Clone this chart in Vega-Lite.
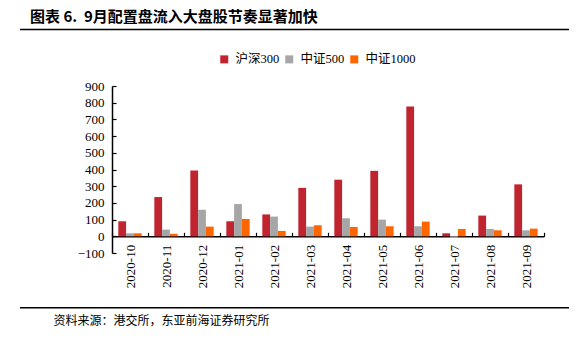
{
  "$schema": "https://vega.github.io/schema/vega-lite/v6.json",
  "autosize": {"type": "none"},
  "width": 432,
  "height": 167,
  "padding": {"left": 112, "top": 86, "right": 35, "bottom": 86},
  "background": "white",
  "title": {
    "text": "图表 6.\u00a0\u00a09月配置盘流入大盘股节奏显著加快",
    "anchor": "start",
    "frame": "group",
    "dx": -82,
    "offset": 4,
    "font": "Noto Sans CJK SC",
    "fontSize": 15,
    "fontWeight": "bold",
    "color": "#000000"
  },
  "config": {
    "view": {"stroke": null},
    "axis": {"labelFont": "Liberation Serif", "labelFontSize": 13, "labelColor": "#000000", "domainColor": "#000000", "tickColor": "#000000", "grid": false, "labelOverlap": false},
    "axisY": {"tickCount": 10, "domainWidth": 1.5, "tickSize": -4, "tickWidth": 1.2, "labelPadding": 12, "labelOverlap": false}
  },
  "layer": [
    {
      "data": {
        "values": [
          {"month": "2020-10", "series": "沪深300", "value": 90},
          {"month": "2020-10", "series": "中证500", "value": 18},
          {"month": "2020-10", "series": "中证1000", "value": 18},
          {"month": "2020-11", "series": "沪深300", "value": 235},
          {"month": "2020-11", "series": "中证500", "value": 40},
          {"month": "2020-11", "series": "中证1000", "value": 15},
          {"month": "2020-12", "series": "沪深300", "value": 394},
          {"month": "2020-12", "series": "中证500", "value": 159},
          {"month": "2020-12", "series": "中证1000", "value": 58},
          {"month": "2021-01", "series": "沪深300", "value": 90},
          {"month": "2021-01", "series": "中证500", "value": 193},
          {"month": "2021-01", "series": "中证1000", "value": 104},
          {"month": "2021-02", "series": "沪深300", "value": 131},
          {"month": "2021-02", "series": "中证500", "value": 118},
          {"month": "2021-02", "series": "中证1000", "value": 32},
          {"month": "2021-03", "series": "沪深300", "value": 290},
          {"month": "2021-03", "series": "中证500", "value": 58},
          {"month": "2021-03", "series": "中证1000", "value": 66},
          {"month": "2021-04", "series": "沪深300", "value": 339},
          {"month": "2021-04", "series": "中证500", "value": 108},
          {"month": "2021-04", "series": "中证1000", "value": 56},
          {"month": "2021-05", "series": "沪深300", "value": 392},
          {"month": "2021-05", "series": "中证500", "value": 100},
          {"month": "2021-05", "series": "中证1000", "value": 60},
          {"month": "2021-06", "series": "沪深300", "value": 777},
          {"month": "2021-06", "series": "中证500", "value": 60},
          {"month": "2021-06", "series": "中证1000", "value": 88},
          {"month": "2021-07", "series": "沪深300", "value": 18},
          {"month": "2021-07", "series": "中证500", "value": -10},
          {"month": "2021-07", "series": "中证1000", "value": 44},
          {"month": "2021-08", "series": "沪深300", "value": 124},
          {"month": "2021-08", "series": "中证500", "value": 44},
          {"month": "2021-08", "series": "中证1000", "value": 36},
          {"month": "2021-09", "series": "沪深300", "value": 311},
          {"month": "2021-09", "series": "中证500", "value": 36},
          {"month": "2021-09", "series": "中证1000", "value": 46}
        ]
      },
      "mark": {"type": "bar"},
      "encoding": {
        "x": {
          "field": "month",
          "type": "nominal",
          "scale": {"paddingInner": 0, "paddingOuter": 0},
          "axis": {
            "title": "资料来源：港交所，东亚前海证券研究所",
            "titleFont": "Noto Sans CJK SC",
            "titleFontSize": 12,
            "titleFontWeight": "normal",
            "titleColor": "#000000",
            "titleX": -59,
            "titleY": 84,
            "titleAlign": "left",
            "titleBaseline": "middle",
            "offset": -16.7,
            "domainWidth": 1.5,
            "tickBand": "extent",
            "tickSize": -4,
            "tickWidth": 1.2,
            "labelFont": "Liberation Serif",
            "labelFontSize": 13,
            "labelAngle": -90,
            "labelAlign": "right",
            "labelBaseline": "middle",
            "labelPadding": 12,
            "labelOverlap": false
          }
        },
        "xOffset": {
          "field": "series",
          "type": "nominal",
          "sort": ["沪深300", "中证500", "中证1000"],
          "scale": {"paddingInner": 0, "paddingOuter": 0.81}
        },
        "y": {
          "field": "value",
          "type": "quantitative",
          "scale": {"domain": [-100, 900], "nice": false, "zero": false},
          "axis": {"title": null, "tickCount": 10, "labelOverlap": false}
        },
        "color": {
          "field": "series",
          "type": "nominal",
          "sort": ["沪深300", "中证500", "中证1000"],
          "scale": {"domain": ["沪深300", "中证500", "中证1000"], "range": ["#C0242F", "#A6A6A6", "#FF6600"]},
          "legend": {
            "title": null,
            "orient": "none",
            "direction": "horizontal",
            "legendX": 106,
            "legendY": -33,
            "symbolType": "square",
            "symbolSize": 64,
            "symbolStrokeWidth": 0,
            "labelFont": "Liberation Serif, Noto Sans CJK SC",
            "labelFontSize": 12.5,
            "labelColor": "#000000",
            "labelOffset": 5,
            "columnPadding": 3
          }
        }
      }
    },
    {
      "data": {"values": [{}]},
      "mark": {"type": "rule", "color": "#000000", "strokeWidth": 1.6},
      "encoding": {
        "y": {"datum": 1238, "type": "quantitative", "axis": {"title": null, "tickCount": 10, "labelOverlap": false}},
        "x": {"datum": 0, "type": "quantitative", "scale": {"domain": [0, 1], "range": [-92, 457]}, "axis": null},
        "x2": {"datum": 1}
      }
    },
    {
      "data": {"values": [{}]},
      "mark": {"type": "rule", "color": "#000000", "strokeWidth": 1.6},
      "encoding": {
        "y": {"datum": -428, "type": "quantitative", "axis": {"title": null, "tickCount": 10, "labelOverlap": false}},
        "x": {"datum": 0, "type": "quantitative", "scale": {"domain": [0, 1], "range": [-92, 457]}, "axis": null},
        "x2": {"datum": 1}
      }
    }
  ],
  "resolve": {"scale": {"x": "independent"}, "axis": {"x": "independent"}}
}
